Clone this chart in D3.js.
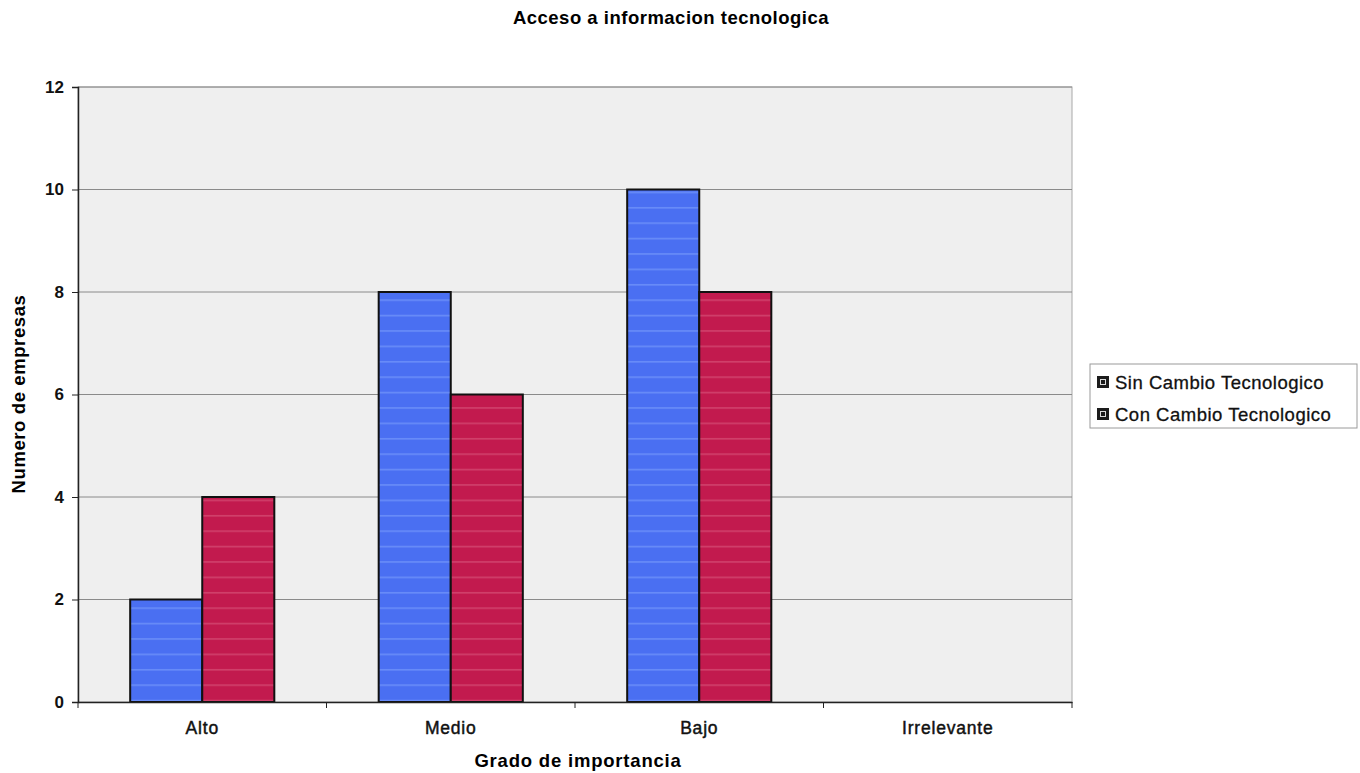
<!DOCTYPE html>
<html>
<head>
<meta charset="utf-8">
<script src="https://cdn.jsdelivr.net/npm/d3@7"></script>
<style>
  body { margin: 0; background: #ffffff; }
  svg { display: block; font-family: "Liberation Sans", Arial, sans-serif; }
</style>
</head>
<body>
<svg id="chart" width="1360" height="773"></svg>
<script>
// Grado de importancia del acceso a informacion tecnologica
const categories = ["Alto", "Medio", "Bajo", "Irrelevante"];
const seriesNames = ["Sin Cambio Tecnologico", "Con Cambio Tecnologico"];
const sinCambio = [2, 8, 10, 0];
const conCambio = [4, 6, 8, 0];
const yTicks = [0, 2, 4, 6, 8, 10, 12];

const colors = ["#4a6ff2", "#c21a4e"];
const stripeColors = ["#8fb0ff", "#e2708f"];

const svg = d3.select("#chart");
const margin = { left: 78, right: 288, top: 87, bottom: 71 };
const W = 1360, H = 773;
const x0 = margin.left, x1 = W - margin.right;
const y0 = margin.top, y1 = H - margin.bottom;

const x = d3.scaleBand().domain(categories).range([x0, x1]).paddingInner(0.42).paddingOuter(0.21);
const xs = d3.scaleBand().domain(seriesNames).range([0, x.bandwidth()]);
const y = d3.scaleLinear().domain([0, 12]).range([y1, y0]);

// stripe patterns inside the bars
const defs = svg.append("defs");
seriesNames.forEach((s, i) => {
  const p = defs.append("pattern").attr("id", "stripe" + i)
    .attr("patternUnits", "userSpaceOnUse").attr("width", 8).attr("height", 15.4);
  p.append("rect").attr("width", 8).attr("height", 15.4).attr("fill", colors[i]);
  p.append("rect").attr("y", 7).attr("width", 8).attr("height", 1.2)
    .attr("fill", stripeColors[i]).attr("opacity", 0.6);
});

// plot area
svg.append("rect").attr("x", x0).attr("y", y0).attr("width", x1 - x0).attr("height", y1 - y0)
  .attr("fill", "#efefef").attr("stroke", "#a8a8a8").attr("stroke-width", 1);

// gridlines
svg.append("g").selectAll("line").data(yTicks.filter(t => t > 0)).join("line")
  .attr("x1", x0).attr("x2", x1)
  .attr("y1", d => y(d)).attr("y2", d => y(d))
  .attr("stroke", "#8a8a8a").attr("stroke-width", 1);

// bars
const data = categories.map((c, i) => ({ cat: c, vals: [sinCambio[i], conCambio[i]] }));
const groups = svg.append("g").selectAll("g").data(data).join("g")
  .attr("transform", d => `translate(${x(d.cat)},0)`);
groups.selectAll("rect").data(d => d.vals.map((v, i) => ({ v, i }))).join("rect")
  .filter(d => d.v > 0)
  .attr("x", d => xs(seriesNames[d.i]))
  .attr("y", d => y(d.v))
  .attr("width", xs.bandwidth())
  .attr("height", d => y(0) - y(d.v))
  .attr("fill", d => `url(#stripe${d.i})`)
  .attr("stroke", "#111").attr("stroke-width", 2);

// y axis
const yAxis = svg.append("g").attr("transform", `translate(${x0},0)`)
  .call(d3.axisLeft(y).tickValues(yTicks).tickSize(6).tickPadding(8));
yAxis.select(".domain").attr("stroke", "#222").attr("stroke-width", 1.5);
yAxis.selectAll(".tick line").attr("stroke", "#222");
yAxis.selectAll("text").attr("font-size", 17).attr("font-weight", "bold")
  .attr("fill", "#111");

// x axis
const xAxis = svg.append("g").attr("transform", `translate(0,${y1})`)
  .call(d3.axisBottom(x).tickSize(0).tickPadding(20));
xAxis.select(".domain").attr("stroke", "#222").attr("stroke-width", 1.5);
xAxis.selectAll("text").attr("font-size", 17.5).attr("letter-spacing", 0.8)
  .attr("fill", "#111").attr("stroke", "#111").attr("stroke-width", 0.45);
// tick marks on category boundaries
const step = x.step();
const bounds = d3.range(categories.length + 1).map(i => x0 + i * step);
svg.append("g").selectAll("line").data(bounds).join("line")
  .attr("x1", d => d).attr("x2", d => d)
  .attr("y1", y1).attr("y2", y1 + 6)
  .attr("stroke", "#222");

// titles
svg.append("text").attr("x", 671).attr("y", 24).attr("text-anchor", "middle")
  .attr("font-size", 18.5).attr("font-weight", "bold").attr("letter-spacing", 0.5)
  .text("Acceso a informacion tecnologica");
svg.append("text").attr("x", 578).attr("y", 767).attr("text-anchor", "middle")
  .attr("font-size", 18.5).attr("font-weight", "bold").attr("letter-spacing", 0.8)
  .text("Grado de importancia");
svg.append("text").attr("transform", "translate(25,394) rotate(-90)").attr("text-anchor", "middle")
  .attr("font-size", 18.5).attr("font-weight", "bold").attr("letter-spacing", 0.6)
  .text("Numero de empresas");

// legend
const lg = svg.append("g").attr("transform", "translate(1090,364)");
lg.append("rect").attr("width", 267).attr("height", 64)
  .attr("fill", "#ffffff").attr("stroke", "#9a9a9a");
seriesNames.forEach((s, i) => {
  const row = lg.append("g").attr("transform", `translate(7,${12 + i * 32})`);
  row.append("rect").attr("width", 12).attr("height", 12).attr("fill", "#1c1c1c");
  row.append("rect").attr("x", 3.5).attr("y", 3.5).attr("width", 5).attr("height", 5)
    .attr("fill", "none").attr("stroke", "#ddd").attr("stroke-width", 1);
  row.append("text").attr("x", 18).attr("y", 13).attr("font-size", 18.5)
    .attr("letter-spacing", 0.5).attr("fill", "#111")
    .attr("stroke", "#111").attr("stroke-width", 0.3).text(s);
});
</script>
</body>
</html>
